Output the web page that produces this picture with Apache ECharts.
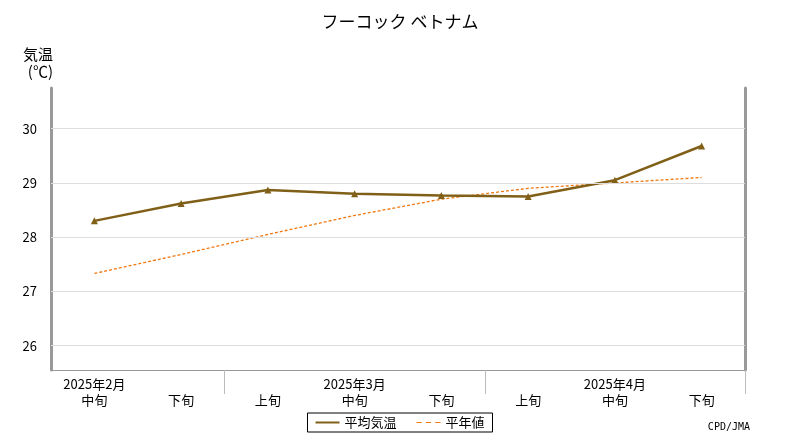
<!DOCTYPE html>
<html><head><meta charset="utf-8">
<script src="https://cdn.jsdelivr.net/npm/echarts@6/dist/echarts.min.js"></script>
<style>html,body{margin:0;padding:0;background:#fff}#c{width:800px;height:440px}</style>
</head><body><div id="c"></div>
<script>
const categories = ['2025年2月\n中旬','\n下旬','\n上旬','2025年3月\n中旬','\n下旬','\n上旬','2025年4月\n中旬','\n下旬'];
const avgTemp = [28.30, 28.62, 28.87, 28.80, 28.77, 28.75, 29.05, 29.68];
const normalTemp = [27.33, 27.68, 28.05, 28.40, 28.70, 28.90, 29.00, 29.10];
const yTicks = [26, 27, 28, 29, 30];
const font = '"Noto Sans CJK JP", sans-serif';
const chart = echarts.init(document.getElementById('c'));
chart.setOption({
  animation: false,
  title: {text: 'フーコック ベトナム', left: 'center', top: 8,
    textStyle: {fontFamily: font, fontSize: 17, fontWeight: 'normal', color: '#000'}},
  grid: {left: 51, right: 55, top: 88, bottom: 70},
  legend: {bottom: 8, left: 'center', borderColor: '#000', borderWidth: 1, padding: [3, 8], itemGap: 20,
    itemWidth: 24, itemHeight: 8,
    textStyle: {fontFamily: font, fontSize: 13, color: '#000'},
    data: [{name: '平均気温', icon: 'path://M0,3L24,3L24,5L0,5Z'}, {name: '平年値', icon: 'path://M0,4L5,4L5,5L0,5ZM9,4L14,4L14,5L9,5ZM18,4L23,4L23,5L18,5Z'}]},
  xAxis: {type: 'category', data: categories, boundaryGap: true,
    axisLine: {lineStyle: {color: '#999', width: 1}},
    axisTick: {show: true, length: 24, lineStyle: {color: '#bbb'}, interval: (i) => i === 2 || i === 5},
    axisLabel: {fontFamily: font, fontSize: 13, color: '#000', lineHeight: 16, margin: 6, interval: 0}},
  yAxis: [{type: 'value', min: 25.55, max: 30.75,
    name: '気温\n(℃)', nameLocation: 'end', nameGap: 8,
    nameTextStyle: {fontFamily: font, fontSize: 15, color: '#000', align: 'right', padding: [0, -2, 0, 0], lineHeight: 17},
    axisLine: {show: true, lineStyle: {color: '#999', width: 3}},
    axisTick: {show: false, customValues: yTicks},
    axisLabel: {fontFamily: font, fontSize: 13, color: '#000', margin: 14,
      customValues: yTicks, formatter: v => String(v)},
    splitLine: {show: false}},
   {type: 'value', min: 25.55, max: 30.75, position: 'right',
    axisLine: {show: true, lineStyle: {color: '#999', width: 3}},
    axisTick: {show: false}, axisLabel: {show: false}, splitLine: {show: false}}],
  graphic: [{type: 'text', right: 50, bottom: 8, style: {text: 'CPD/JMA', font: '10px "DejaVu Sans Mono"', fill: '#000'}}],
  series: [
    {name: '平年値', type: 'line', data: normalTemp, symbol: 'none', z: 1,
      lineStyle: {color: '#f07810', width: 1.3, type: [3, 2]}, itemStyle: {color: '#f07810'},
      markLine: {silent: true, symbol: 'none', label: {show: false},
        lineStyle: {color: '#ddd', width: 1, type: 'solid'},
        data: yTicks.map(v => ({yAxis: v}))}},
    {name: '平均気温', type: 'line', data: avgTemp, symbol: 'triangle', symbolSize: 7, z: 2,
      lineStyle: {color: '#806018', width: 2.5}, itemStyle: {color: '#806018'}}
  ]
});
</script></body></html>
